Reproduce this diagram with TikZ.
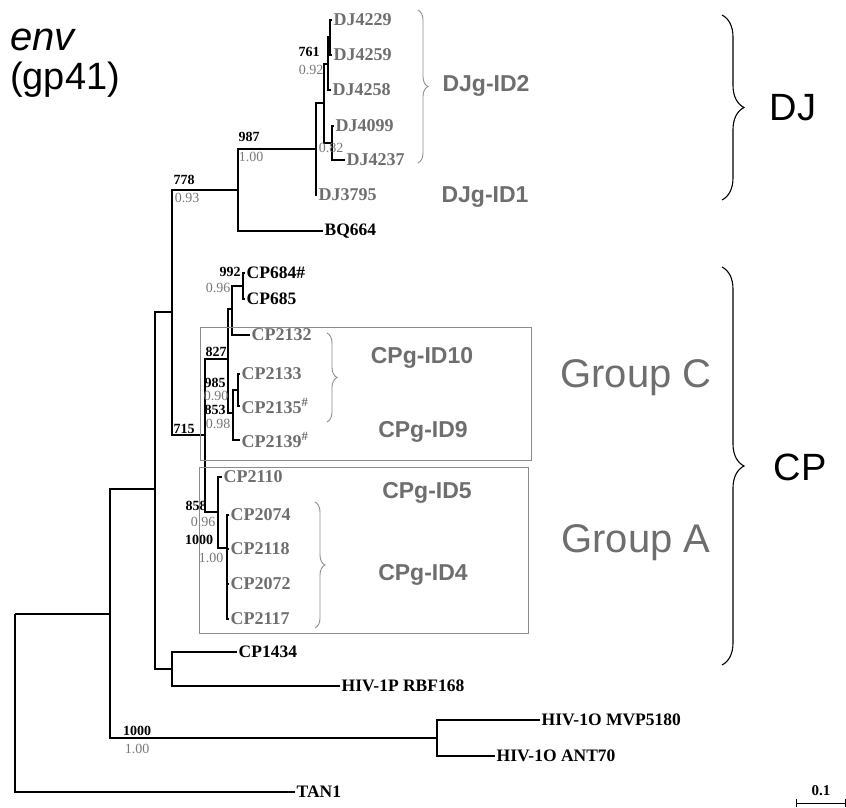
\documentclass[tikz,border=0pt]{standalone}
\usepackage{fontspec}
\setmainfont{Liberation Serif}
\setsansfont{Liberation Sans}
\usetikzlibrary{decorations.pathreplacing}
\definecolor{lgray}{RGB}{110,110,110}
\definecolor{bgray}{RGB}{120,120,120}
\definecolor{boxgray}{RGB}{140,140,140}
\begin{document}
\begin{tikzpicture}[x=1pt,y=-1pt,
  br/.style={line width=1.1pt, black},
  tipk/.style={anchor=west, inner sep=1.5pt, text=black, font=\bfseries\fontsize{17.5}{17.5}\selectfont},
  tipg/.style={anchor=west, inner sep=1.5pt, text=lgray, font=\bfseries\fontsize{18}{18}\selectfont},
  bsb/.style={inner sep=0pt, text=black, font=\bfseries\fontsize{14}{14}\selectfont},
  bsg/.style={inner sep=0pt, text=bgray, font=\fontsize{14}{14}\selectfont},
  grp/.style={inner sep=0pt, text=lgray, font=\sffamily\bfseries\fontsize{23}{23}\selectfont},
  biggrp/.style={inner sep=0pt, text=lgray, font=\sffamily\fontsize{40}{40}\selectfont},
  clade/.style={inner sep=0pt, text=black, font=\sffamily\fontsize{38}{38}\selectfont},
  bracek/.style={decorate, decoration={brace, amplitude=22pt}, line width=1.1pt, black},
  braceg/.style={decorate, decoration={brace, amplitude=10pt}, line width=0.9pt, boxgray},
  boxs/.style={draw=boxgray, line width=1pt}
]
\useasboundingbox (0,0) rectangle (846,808);

% ---------- coordinates of tree nodes ----------
\coordinate (R) at (15,614);
\coordinate (X111) at (110,614);
\coordinate (X155) at (155,489);
\coordinate (X172) at (172,669);
\coordinate (tCP1434) at (237,652);
\coordinate (tRBF) at (340,686);
\coordinate (O1000) at (437,738);
\coordinate (tMVP) at (540,720);
\coordinate (tANT) at (495,756);
\coordinate (tTAN) at (295,792);
\coordinate (N778) at (172,312);
\coordinate (N987) at (238,190);
\coordinate (A316) at (316,149);
\coordinate (tBQ) at (323,231);
\coordinate (A324) at (324,103);
\coordinate (tDJ3795) at (317,195);
\coordinate (N761) at (328,64);
\coordinate (A330) at (330,37);
\coordinate (tDJ4229) at (332,20);
\coordinate (tDJ4259) at (332,55);
\coordinate (tDJ4258) at (331,90);
\coordinate (A332) at (332,143);
\coordinate (tDJ4099) at (334,126);
\coordinate (tDJ4237) at (345,160);
\coordinate (N715) at (205,435);
\coordinate (N827) at (228,359);
\coordinate (Na) at (232,309);
\coordinate (N992) at (243,286);
\coordinate (tCP684) at (245,273);
\coordinate (tCP685) at (245,299);
\coordinate (tCP2132) at (250,335);
\coordinate (N853) at (233,413);
\coordinate (N985) at (238,390);
\coordinate (tCP2133) at (240,374);
\coordinate (tCP2135) at (240,406);
\coordinate (tCP2139) at (240,440);
\coordinate (N858) at (218,512);
\coordinate (tCP2110) at (222,477);
\coordinate (N1000) at (227,548);
\coordinate (tCP2074) at (229,515);
\coordinate (tCP2118) at (229,549);
\coordinate (tCP2072) at (229,584);
\coordinate (tCP2117) at (229,619);

% ---------- branches ----------
\draw[br] (R) |- (X111);
\draw[br] (R) |- (tTAN);
\draw[br] (X111) |- (X155);
\draw[br] (X111) |- (O1000);
\draw[br] (X155) |- (N778);
\draw[br] (X155) |- (X172);
\draw[br] (X172) |- (tCP1434);
\draw[br] (X172) |- (tRBF);
\draw[br] (O1000) |- (tMVP);
\draw[br] (O1000) |- (tANT);
\draw[br] (N778) |- (N987);
\draw[br] (N778) |- (N715);
\draw[br] (N987) |- (A316);
\draw[br] (N987) |- (tBQ);
\draw[br] (A316) |- (A324);
\draw[br] (A316) |- (tDJ3795);
\draw[br] (A324) |- (N761);
\draw[br] (A324) |- (A332);
\draw[br] (N761) |- (A330);
\draw[br] (N761) |- (tDJ4258);
\draw[br, line width=1.8pt] (A330) |- (tDJ4229);
\draw[br, line width=1.8pt] (A330) |- (tDJ4259);
\draw[br] (A332) |- (tDJ4099);
\draw[br] (A332) |- (tDJ4237);
\draw[br] (N715) |- (N827);
\draw[br] (N715) |- (N858);
\draw[br] (N827) |- (Na);
\draw[br] (N827) |- (N853);
\draw[br] (Na) |- (N992);
\draw[br] (Na) |- (tCP2132);
\draw[br] (N992) |- (tCP684);
\draw[br] (N992) |- (tCP685);
\draw[br] (N853) |- (N985);
\draw[br] (N853) |- (tCP2139);
\draw[br] (N985) |- (tCP2133);
\draw[br] (N985) |- (tCP2135);
\draw[br] (N858) |- (tCP2110);
\draw[br] (N858) |- (N1000);
\draw[br] (N1000) |- (tCP2074);
\draw[br] (N1000) |- (tCP2118);
\draw[br] (N1000) |- (tCP2072);
\draw[br] (N1000) |- (tCP2117);

% ---------- tip labels ----------
\node[tipg] (lDJ4229) at (tDJ4229) {DJ4229};
\node[tipg] (lDJ4259) at (tDJ4259) {DJ4259};
\node[tipg] (lDJ4258) at (tDJ4258) {DJ4258};
\node[tipg] (lDJ4099) at (tDJ4099) {DJ4099};
\node[tipg] (lDJ4237) at (tDJ4237) {DJ4237};
\node[tipg] (lDJ3795) at (tDJ3795) {DJ3795};
\node[tipk] (lBQ) at (tBQ) {BQ664};
\node[tipk] (lCP684) at (tCP684) {CP684\#};
\node[tipk] (lCP685) at (tCP685) {CP685};
\node[tipg] (lCP2132) at (tCP2132) {CP2132};
\node[tipg] (lCP2133) at (tCP2133) {CP2133};
\node[tipg] (lCP2135) at (tCP2135) {CP2135\textsuperscript{\#}};
\node[tipg] (lCP2139) at (tCP2139) {CP2139\textsuperscript{\#}};
\node[tipg] (lCP2110) at (tCP2110) {CP2110};
\node[tipg] (lCP2074) at (tCP2074) {CP2074};
\node[tipg] (lCP2118) at (tCP2118) {CP2118};
\node[tipg] (lCP2072) at (tCP2072) {CP2072};
\node[tipg] (lCP2117) at (tCP2117) {CP2117};
\node[tipk] (lCP1434) at (tCP1434) {CP1434};
\node[tipk] (lRBF) at (tRBF) {HIV-1P RBF168};
\node[tipk] (lMVP) at (tMVP) {HIV-1O MVP5180};
\node[tipk] (lANT) at (tANT) {HIV-1O ANT70};
\node[tipk] (lTAN) at (tTAN) {TAN1};

% ---------- support values ----------
\node[bsb] (b761) at (309,52) {761};
\node[bsg] (p761) at (311,70) {0.92};
\node[bsg] (p082) at (331,148) {0.82};
\node[bsb] (b987) at (249,137) {987};
\node[bsg] (p987) at (251,157) {1.00};
\node[bsb] (b778) at (184,180) {778};
\node[bsg] (p778) at (187,198) {0.93};
\node[bsb] (b992) at (230,272) {992};
\node[bsg] (p992) at (218,288) {0.96};
\node[bsb] (b827) at (216,352) {827};
\node[bsb] (b985) at (215,383) {985};
\node[bsg] (p985) at (216,396) {0.90};
\node[bsb] (b853) at (215,410) {853};
\node[bsg] (p853) at (218,424) {0.98};
\node[bsb] (b715) at (184,429) {715};
\node[bsb] (b858) at (196,506) {858};
\node[bsg] (p858) at (203,522) {0.96};
\node[bsb] (b1000a) at (199,540) {1000};
\node[bsg] (p1000a) at (211,558) {1.00};
\node[bsb] (b1000b) at (137,731) {1000};
\node[bsg] (p1000b) at (137,749) {1.00};

% ---------- boxes and braces ----------
\draw[boxs] (200,327) rectangle (531,460);
\draw[boxs] (199,467) rectangle (528,633);
\draw[braceg] (418,10) -- (418,163);
\draw[braceg] (327,333) -- (327,422);
\draw[braceg] (315,502) -- (315,628);
\draw[bracek] (722,15) -- (722,200);
\draw[bracek] (722,267) -- (722,665);

% ---------- group labels ----------
\node[grp] (gDJ2) at (486,86) {DJg-ID2};
\node[grp] (gDJ1) at (485,197) {DJg-ID1};
\node[grp] (gCP10) at (422,358) {CPg-ID10};
\node[grp] (gCP9) at (423,432) {CPg-ID9};
\node[grp] (gCP5) at (427,493) {CPg-ID5};
\node[grp] (gCP4) at (423,575) {CPg-ID4};
\node[biggrp] (gC) at (636,378) {Group C};
\node[biggrp] (gA) at (636,543) {Group A};
\node[clade] (cDJ) at (793,108) {DJ};
\node[clade] (cCP) at (800,467) {CP};
\node[anchor=west, inner sep=0pt, font=\sffamily\itshape\fontsize{40}{40}\selectfont] (tenv) at (10,40) {env};
\node[anchor=west, inner sep=0pt, font=\sffamily\fontsize{38}{38}\selectfont] (tgp) at (10,80) {(gp41)};

% ---------- scale bar ----------
\coordinate (s1) at (796,803);
\coordinate (s2) at (845,803);
\draw[line width=1pt] (s1) -- (s2);
\draw[line width=1pt] ([yshift=-4pt]s1) -- ([yshift=4pt]s1);
\draw[line width=1pt] ([yshift=-4pt]s2) -- ([yshift=4pt]s2);
\node[bsb, font=\bfseries\fontsize{15}{15}\selectfont] (lscale) at (821,791) {0.1};
\end{tikzpicture}
\end{document}
